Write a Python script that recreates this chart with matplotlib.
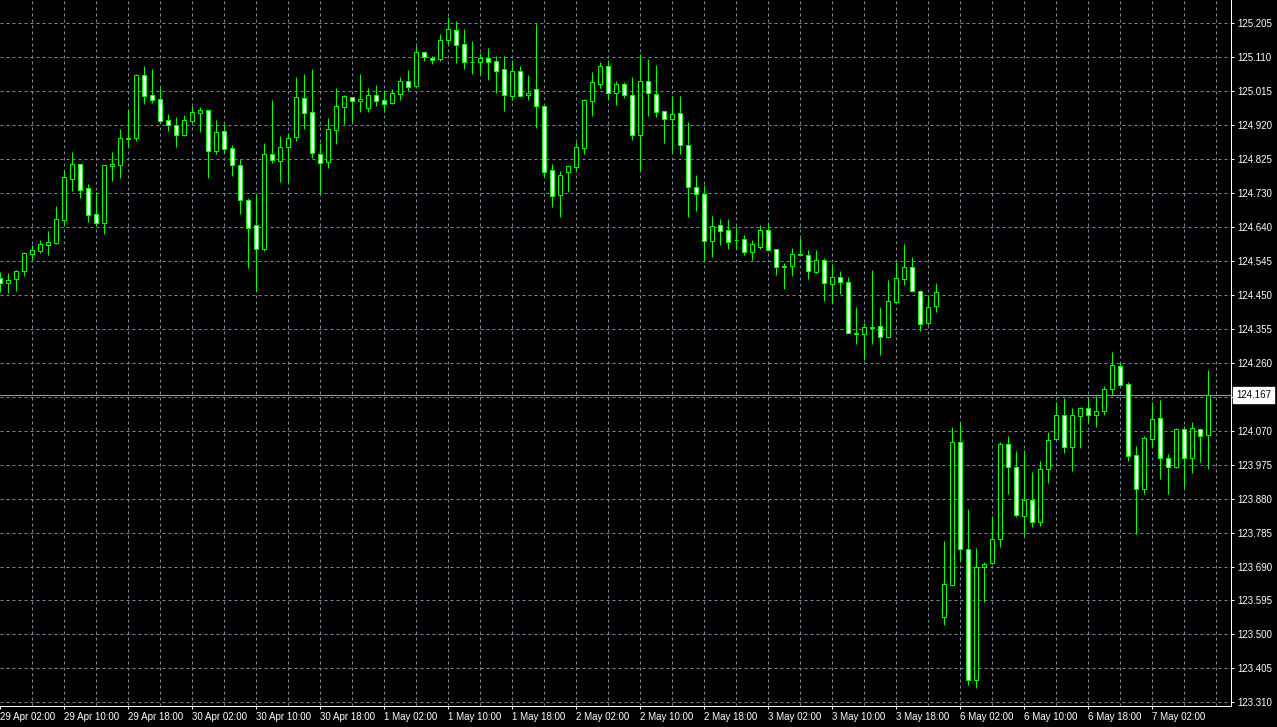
import numpy as np
import matplotlib.pyplot as plt

# hourly bars, 29 Apr 02:00 -> 7 May 09:00 (weekend skipped)
opens = [124.493, 124.481, 124.491, 124.515, 124.562, 124.570, 124.587, 124.593, 124.657, 124.771,
         124.812, 124.745, 124.672, 124.649, 124.808, 124.810, 124.883, 124.886, 125.061, 125.004,
         124.993, 124.934, 124.920, 124.894, 124.933, 124.955, 124.962, 124.848, 124.904, 124.856,
         124.809, 124.711, 124.641, 124.574, 124.839, 124.820, 124.859, 124.887, 124.996, 124.957,
         124.839, 124.819, 124.908, 124.972, 124.998, 124.987, 124.969, 125.004, 124.991, 124.983,
         125.009, 125.044, 125.030, 125.124, 125.109, 125.106, 125.158, 125.185, 125.146, 125.097,
         125.098, 125.107, 125.099, 125.077, 125.003, 125.071, 125.004, 125.021, 124.973, 124.795,
         124.725, 124.791, 124.805, 124.858, 124.989, 125.036, 125.085, 125.010, 125.035, 125.004,
         124.892, 125.043, 125.007, 124.959, 124.937, 124.954, 124.865, 124.747, 124.728, 124.597,
         124.641, 124.627, 124.600, 124.602, 124.566, 124.582, 124.627, 124.574, 124.525, 124.527,
         124.559, 124.558, 124.510, 124.544, 124.477, 124.496, 124.482, 124.339, 124.337, 124.356,
         124.359, 124.329, 124.428, 124.491, 124.524, 124.457, 124.368, 124.415, 123.549, 123.637,
         124.036, 123.737, 123.371, 123.687, 123.698, 123.765, 124.030, 123.966, 123.829, 123.874,
         123.812, 123.960, 124.044, 124.111, 124.022, 124.108, 124.131, 124.111, 124.122, 124.184,
         124.249, 124.198, 123.999, 123.905, 124.044, 124.103, 123.991, 123.966, 124.072, 123.991,
         124.072, 124.055]
highs = [124.511, 124.507, 124.517, 124.567, 124.585, 124.600, 124.625, 124.695, 124.796, 124.846,
         124.813, 124.756, 124.733, 124.810, 124.846, 124.910, 124.966, 125.064, 125.086, 125.077,
         125.024, 124.951, 124.943, 124.948, 124.974, 124.971, 124.963, 124.935, 124.923, 124.865,
         124.825, 124.717, 124.728, 124.870, 124.991, 124.890, 124.900, 125.054, 125.064, 125.077,
         124.870, 124.942, 125.024, 125.005, 124.999, 125.064, 125.024, 125.033, 125.019, 125.022,
         125.055, 125.075, 125.142, 125.125, 125.114, 125.176, 125.222, 125.211, 125.189, 125.155,
         125.121, 125.135, 125.113, 125.113, 125.102, 125.085, 125.060, 125.202, 124.974, 124.812,
         124.792, 124.807, 124.874, 124.995, 125.069, 125.096, 125.102, 125.043, 125.040, 125.054,
         125.118, 125.104, 125.089, 124.960, 125.001, 125.001, 124.929, 124.781, 124.753, 124.666,
         124.658, 124.658, 124.638, 124.613, 124.599, 124.642, 124.650, 124.575, 124.535, 124.578,
         124.606, 124.572, 124.572, 124.549, 124.532, 124.513, 124.497, 124.412, 124.368, 124.516,
         124.412, 124.488, 124.538, 124.589, 124.552, 124.460, 124.446, 124.479, 123.760, 124.078,
         124.093, 123.850, 123.741, 123.701, 123.830, 124.036, 124.053, 124.011, 124.013, 123.953,
         123.983, 124.064, 124.147, 124.159, 124.131, 124.135, 124.159, 124.164, 124.193, 124.288,
         124.258, 124.204, 124.025, 124.052, 124.147, 124.153, 124.002, 124.075, 124.080, 124.092,
         124.075, 124.237]
lows = [124.455, 124.451, 124.459, 124.500, 124.544, 124.565, 124.559, 124.590, 124.640, 124.738,
        124.718, 124.650, 124.640, 124.618, 124.766, 124.774, 124.861, 124.877, 124.981, 124.983,
        124.926, 124.905, 124.861, 124.890, 124.923, 124.902, 124.774, 124.841, 124.844, 124.780,
        124.674, 124.523, 124.459, 124.570, 124.814, 124.763, 124.760, 124.876, 124.911, 124.830,
        124.731, 124.802, 124.869, 124.925, 124.930, 124.958, 124.958, 124.974, 124.958, 124.980,
        124.992, 125.017, 125.027, 125.101, 125.091, 125.101, 125.146, 125.095, 125.078, 125.064,
        125.063, 125.048, 125.010, 124.961, 124.992, 125.000, 124.992, 124.914, 124.777, 124.693,
        124.665, 124.735, 124.794, 124.841, 124.947, 125.025, 124.995, 124.978, 124.997, 124.880,
        124.794, 124.947, 124.944, 124.872, 124.845, 124.841, 124.665, 124.682, 124.541, 124.554,
        124.587, 124.576, 124.576, 124.559, 124.545, 124.575, 124.570, 124.503, 124.464, 124.501,
        124.557, 124.492, 124.509, 124.431, 124.425, 124.449, 124.340, 124.311, 124.265, 124.311,
        124.279, 124.326, 124.426, 124.474, 124.456, 124.345, 124.364, 124.400, 123.526, 123.636,
        123.705, 123.358, 123.351, 123.591, 123.697, 123.744, 123.892, 123.828, 123.773, 123.798,
        123.803, 123.921, 124.043, 124.005, 123.955, 124.019, 124.089, 124.079, 124.113, 124.168,
        124.194, 123.984, 123.779, 123.892, 124.023, 123.932, 123.892, 123.963, 123.907, 123.949,
        123.982, 123.960]
closes = [124.481, 124.489, 124.514, 124.563, 124.572, 124.589, 124.594, 124.658, 124.775, 124.812,
          124.741, 124.671, 124.649, 124.809, 124.812, 124.884, 124.884, 125.061, 125.003, 124.992,
          124.933, 124.920, 124.894, 124.934, 124.957, 124.962, 124.848, 124.901, 124.855, 124.809,
          124.711, 124.633, 124.574, 124.839, 124.823, 124.859, 124.884, 124.998, 124.955, 124.844,
          124.816, 124.910, 124.973, 125.002, 124.989, 124.994, 125.004, 124.989, 124.981, 125.010,
          125.044, 125.028, 125.124, 125.110, 125.103, 125.158, 125.188, 125.144, 125.096, 125.098,
          125.107, 125.098, 125.071, 125.004, 125.071, 125.003, 125.010, 124.973, 124.791, 124.722,
          124.781, 124.806, 124.859, 124.990, 125.040, 125.085, 125.010, 125.035, 125.004, 124.894,
          125.043, 125.010, 124.957, 124.937, 124.951, 124.865, 124.747, 124.728, 124.597, 124.638,
          124.625, 124.594, 124.601, 124.566, 124.588, 124.627, 124.572, 124.524, 124.527, 124.560,
          124.560, 124.513, 124.544, 124.479, 124.496, 124.482, 124.342, 124.340, 124.357, 124.357,
          124.329, 124.429, 124.493, 124.524, 124.457, 124.365, 124.412, 124.454, 123.639, 124.036,
          123.737, 123.371, 123.687, 123.695, 123.765, 124.030, 123.966, 123.832, 123.874, 123.812,
          123.960, 124.041, 124.111, 124.022, 124.111, 124.131, 124.111, 124.123, 124.184, 124.251,
          124.195, 123.997, 123.905, 124.047, 124.100, 123.991, 123.966, 124.072, 123.991, 124.075,
          124.052, 124.167]

time_labels = ["29 Apr 02:00", "29 Apr 10:00", "29 Apr 18:00", "30 Apr 02:00", "30 Apr 10:00",
               "30 Apr 18:00", "1 May 02:00", "1 May 10:00", "1 May 18:00", "2 May 02:00",
               "2 May 10:00", "2 May 18:00", "3 May 02:00", "3 May 10:00", "3 May 18:00",
               "6 May 02:00", "6 May 10:00", "6 May 18:00", "7 May 02:00"]
price_labels = ["125.205", "125.110", "125.015", "124.920", "124.825", "124.730", "124.640",
                "124.545", "124.450", "124.355", "124.260", "", "124.070", "123.975", "123.880",
                "123.785", "123.690", "123.595", "123.500", "123.405", "123.310"]
last_price = 124.167


def main():
    plt.rcParams['font.family'] = ['Liberation Sans', 'DejaVu Sans']

    o = np.array(opens)
    h = np.array(highs)
    l = np.array(lows)
    c = np.array(closes)
    n = len(o)
    x = np.arange(n)
    bull = c >= o

    fig = plt.figure(figsize=(12.77, 7.27), dpi=100, facecolor='black')
    ax = fig.add_axes([0, 21 / 727, 1231 / 1277, 706 / 727], facecolor='black')
    ax.set_xlim(0, 153.875)
    ax.set_ylim(123.2998, 125.270)

    # grid (MT4 style dotted)
    grid_color = '#778899'
    price_ticks = np.linspace(125.205, 123.310, len(price_labels))
    for p in price_ticks:
        ax.axhline(p, color=grid_color, lw=0.72, ls=(0, (3, 3)), zorder=1)
    for k in range(4, n + 4, 4):
        ax.axvline(k, color=grid_color, lw=0.72, ls=(0, (3, 3)), zorder=1)
    ax.axhline(last_price, color='#9a9a9a', lw=0.72, zorder=2)

    green = '#00ff00'
    ax.vlines(x, l, h, color=green, lw=0.72, zorder=3)
    ax.bar(x, np.abs(c - o), width=0.5, bottom=np.minimum(o, c),
           color=np.where(bull, 'black', 'white'), edgecolor=green,
           linewidth=0.72, zorder=4)

    # axes
    for s in ['top', 'left']:
        ax.spines[s].set_visible(False)
    for s in ['right', 'bottom']:
        ax.spines[s].set_color('white')
        ax.spines[s].set_linewidth(0.72)

    ax.yaxis.tick_right()
    ax.set_yticks(price_ticks)
    ax.set_yticklabels(price_labels)
    ax.tick_params(axis='y', colors='white', length=2.2, width=0.72, pad=2.2, labelsize=7)

    ax.set_xticks(range(0, n, 8))
    ax.set_xticklabels(time_labels, ha='left')
    ax.tick_params(axis='x', colors='white', length=2.5, width=0.72, pad=2, labelsize=7)

    ax.text(1.0041, last_price, "124.167", transform=ax.get_yaxis_transform(),
            ha='left', va='center', color='black', fontsize=7, clip_on=False, zorder=6,
            bbox=dict(boxstyle='square,pad=0.3', fc='white', ec='white'))

    fig.savefig('out.png', dpi=100, facecolor='black')


if __name__ == "__main__":
    main()
